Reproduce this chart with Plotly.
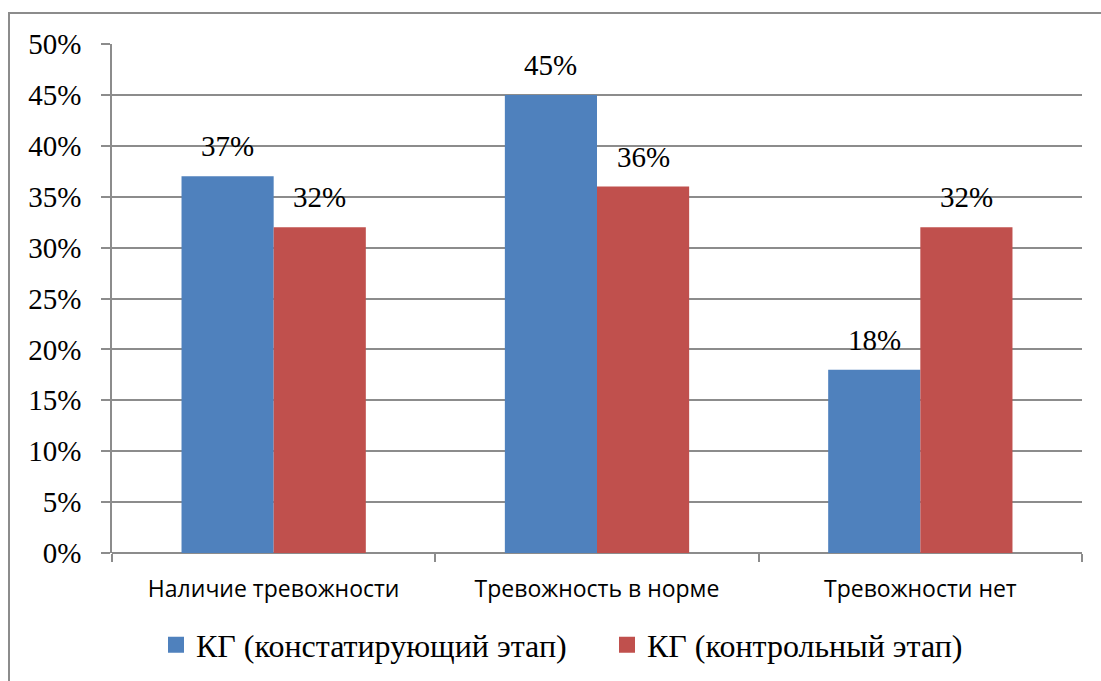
import plotly.graph_objects as go

categories = ["Наличие тревожности", "Тревожность в норме", "Тревожности нет"]
series_names = ["КГ (констатирующий этап)", "КГ (контрольный этап)"]
values_const = [37, 45, 18]
values_ctrl = [32, 36, 32]
colors = ["#4F81BD", "#C0504D"]
y_ticks = [0, 5, 10, 15, 20, 25, 30, 35, 40, 45, 50]

W, H = 1101, 681
L, R, T, B = 112, 19, 44, 128
pw, ph = W - L - R, H - T - B
bargap = 0.43
bar_px = pw / len(categories) * (1 - bargap) / 2

serif = "Liberation Serif, Times New Roman, serif"
sans = "Open Sans, Liberation Sans, sans-serif"

legend_names = ["legend", "legend2"]
legend_left_px = [156, 607]

fig = go.Figure()
for i, (name, vals, col) in enumerate(zip(series_names, [values_const, values_ctrl], colors)):
    fig.add_trace(go.Bar(
        x=categories, y=vals, name=name, marker=dict(color=col, line=dict(width=0)),
        showlegend=False, hoverinfo="x+y",
    ))
    # legend entry with a larger square symbol
    fig.add_trace(go.Scatter(
        x=[None], y=[None], mode="markers", name=name, legend=legend_names[i],
        marker=dict(symbol="square", size=16, color=col), showlegend=True,
    ))
    shift = (i - 0.5) * bar_px
    for c, v in zip(categories, vals):
        fig.add_annotation(x=c, y=v, xref="x", yref="y", text=f"{v}%",
                           showarrow=False, yanchor="bottom", yshift=12, xshift=shift,
                           font=dict(family=serif, size=29, color="black"))

legend_style = dict(orientation="h", xanchor="left", y=(T + ph - 645) / ph, yanchor="middle",
                    font=dict(family=serif, size=32, color="black"), itemwidth=30,
                    bgcolor="rgba(0,0,0,0)")

fig.update_layout(
    width=W, height=H, margin=dict(l=L, r=R, t=T, b=B, autoexpand=False),
    paper_bgcolor="white", plot_bgcolor="white",
    barmode="group", bargap=bargap, bargroupgap=0,
    showlegend=True,
    legend=dict(x=(legend_left_px[0] - L) / pw, **legend_style),
    legend2=dict(x=(legend_left_px[1] - L) / pw, **legend_style),
)
fig.update_xaxes(
    showgrid=False, showline=False, ticks="outside", tickson="boundaries",
    ticklen=8, tickcolor="#8c8c8c", tickwidth=1.5, ticklabelstandoff=20,
    tickfont=dict(family=sans, size=23, color="black"),
)
fig.update_yaxes(
    range=[0, 50], tickvals=y_ticks, ticktext=[f"{v}%" for v in y_ticks],
    showgrid=True, gridcolor="#8c8c8c", gridwidth=1.5,
    showline=True, linecolor="#8c8c8c", linewidth=1.5,
    ticks="outside", ticklen=9, tickcolor="#8c8c8c", tickwidth=1.5,
    ticklabelstandoff=14,
    tickfont=dict(family=serif, size=29, color="black"),
    zeroline=True, zerolinecolor="#8c8c8c", zerolinewidth=1.5,
)
# outer chart border (partially visible in the reference)
fig.add_shape(type="rect", xref="paper", yref="paper",
              x0=(9 - L) / pw, x1=(W + 20 - L) / pw,
              y0=-(H + 20 - (T + ph)) / ph, y1=(T + ph - 13) / ph,
              line=dict(color="#8c8c8c", width=2), layer="below")

fig.write_html("out.html", config={"displayModeBar": False},
               post_script="document.body.style.margin='0';document.body.style.overflow='hidden';")
